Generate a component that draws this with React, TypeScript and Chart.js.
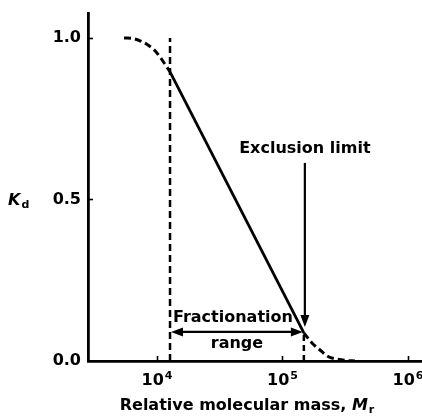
import { useEffect, useRef } from "react";
import { Chart, registerables } from "chart.js";

Chart.register(...registerables);

const FONT = '"DejaVu Sans", "Liberation Sans", sans-serif';

// Axis ticks
const xTickValues = [1e4, 1e5, 1e6];
const yTickValues = [0, 0.5, 1.0];

// Elution curve: Kd against relative molecular mass (log scale)
const shoulderMr = [5460, 6440, 7320, 8470, 9640, 10560, 11370, 12700];
const shoulderKd = [1.0, 0.998, 0.991, 0.978, 0.96, 0.941, 0.923, 0.895];
const linearMr = [12700, 148000];
const linearKd = [0.895, 0.087];
const tailMr = [148000, 171800, 199000, 230500, 271800, 314700, 378000];
const tailKd = [0.087, 0.056, 0.034, 0.014, 0.006, 0.002, 0];

// Fractionation range limits
const fractionationLowMr = 12700;
const exclusionLimitMr = 148000;
const fractionationLowKd = [0, 1.0];
const exclusionLimitKd = [0, 0.087];
const fractionationArrowKd = 0.09;
const exclusionArrowKd = [0.613, 0.105];

const pts = (xs: number[], ys: number[]) => xs.map((x, i) => ({ x, y: ys[i] }));

function arrowHead(ctx: CanvasRenderingContext2D, tx: number, ty: number, dx: number, dy: number, len = 12, half = 4.5) {
  const px = -dy, py = dx;
  ctx.beginPath();
  ctx.moveTo(tx, ty);
  ctx.lineTo(tx - dx * len + px * half, ty - dy * len + py * half);
  ctx.lineTo(tx - dx * len - px * half, ty - dy * len - py * half);
  ctx.closePath();
  ctx.fill();
}

const overlay = {
  id: "overlay",
  afterDraw(chart: any) {
    const { ctx, chartArea } = chart;
    const xs = chart.scales.x;
    const ys = chart.scales.y;
    ctx.save();
    ctx.strokeStyle = "#000";
    ctx.fillStyle = "#000";
    ctx.setLineDash([]);

    // inward tick marks
    ctx.lineWidth = 1.6;
    xTickValues.forEach((v) => {
      const px = Math.round(xs.getPixelForValue(v)) + 0.5;
      ctx.beginPath();
      ctx.moveTo(px, chartArea.bottom);
      ctx.lineTo(px, chartArea.bottom - 5);
      ctx.stroke();
    });
    yTickValues.forEach((v) => {
      if (v === 0) return;
      const py = Math.round(ys.getPixelForValue(v)) + 0.5;
      ctx.beginPath();
      ctx.moveTo(chartArea.left, py);
      ctx.lineTo(chartArea.left + 5, py);
      ctx.stroke();
    });

    // x tick labels: powers of ten with raised exponent
    ctx.textBaseline = "alphabetic";
    ctx.textAlign = "left";
    xs.ticks.forEach((t: any) => {
      const exp = String(Math.round(Math.log10(t.value)));
      const px = xs.getPixelForValue(t.value);
      ctx.font = `bold 16px ${FONT}`;
      const wb = ctx.measureText("10").width;
      ctx.font = `bold 11px ${FONT}`;
      const we = ctx.measureText(exp).width;
      const left = px - (wb + we + 1) / 2;
      const base = chartArea.bottom + 24;
      ctx.font = `bold 16px ${FONT}`;
      ctx.fillText("10", left, base);
      ctx.font = `bold 11px ${FONT}`;
      ctx.fillText(exp, left + wb + 1, base - 6);
    });

    // y-axis title: K with subscript d
    const kBase = ys.getPixelForValue(0.5) + 6;
    ctx.font = `italic bold 16px ${FONT}`;
    ctx.fillText("K", 8, kBase);
    const kW = ctx.measureText("K").width;
    ctx.font = `bold 11px ${FONT}`;
    ctx.fillText("d", 8 + kW + 1, kBase + 3);

    // x-axis title: Relative molecular mass, M with subscript r
    const t1 = "Relative molecular mass, ";
    ctx.font = `bold 16px ${FONT}`;
    const w1 = ctx.measureText(t1).width;
    ctx.font = `italic bold 16px ${FONT}`;
    const w2 = ctx.measureText("M").width;
    ctx.font = `bold 11px ${FONT}`;
    const w3 = ctx.measureText("r").width;
    const total = w1 + w2 + w3 + 1;
    const cx = (chartArea.left + chartArea.right) / 2 - 8;
    let tx = cx - total / 2;
    const tBase = 410;
    ctx.font = `bold 16px ${FONT}`;
    ctx.fillText(t1, tx, tBase);
    tx += w1;
    ctx.font = `italic bold 16px ${FONT}`;
    ctx.fillText("M", tx, tBase);
    tx += w2 + 1;
    ctx.font = `bold 11px ${FONT}`;
    ctx.fillText("r", tx, tBase + 3);

    // exclusion limit arrow and label
    const xe = xs.getPixelForValue(exclusionLimitMr) + 1;
    const yTop = ys.getPixelForValue(exclusionArrowKd[0]);
    const yTip = ys.getPixelForValue(exclusionArrowKd[1]);
    ctx.lineWidth = 2.2;
    ctx.beginPath();
    ctx.moveTo(xe, yTop);
    ctx.lineTo(xe, yTip - 10);
    ctx.stroke();
    arrowHead(ctx, xe, yTip, 0, 1);
    ctx.font = `bold 16px ${FONT}`;
    ctx.textAlign = "center";
    ctx.fillText("Exclusion limit", xe, yTop - 10);

    // fractionation range double arrow and labels
    const yf = ys.getPixelForValue(fractionationArrowKd);
    const xl = xs.getPixelForValue(fractionationLowMr) + 1;
    const xr = xs.getPixelForValue(exclusionLimitMr) - 1;
    ctx.beginPath();
    ctx.moveTo(xl + 10, yf);
    ctx.lineTo(xr - 10, yf);
    ctx.stroke();
    arrowHead(ctx, xl, yf, -1, 0);
    arrowHead(ctx, xr, yf, 1, 0);
    ctx.textAlign = "left";
    ctx.fillText("Fractionation", xl + 2, yf - 10);
    ctx.textAlign = "center";
    ctx.fillText("range", (xl + xr) / 2, yf + 16);

    ctx.restore();
  },
};

export default function App() {
  const ref = useRef<HTMLCanvasElement>(null);

  useEffect(() => {
    const tickFont = { family: FONT, size: 16, weight: "bold" as const };
    const dashed = { borderColor: "#000", borderDash: [7, 4], pointRadius: 0, fill: false };
    const chart = new Chart(ref.current!, {
      type: "line",
      data: {
        datasets: [
          { ...dashed, data: pts(shoulderMr, shoulderKd), borderWidth: 3, cubicInterpolationMode: "monotone" },
          { data: pts(linearMr, linearKd), borderColor: "#000", borderWidth: 2.8, pointRadius: 0, fill: false },
          { ...dashed, data: pts(tailMr, tailKd), borderWidth: 3, cubicInterpolationMode: "monotone" },
          { ...dashed, data: pts([fractionationLowMr, fractionationLowMr], fractionationLowKd), borderWidth: 2.5 },
          { ...dashed, data: pts([exclusionLimitMr, exclusionLimitMr], exclusionLimitKd), borderWidth: 2.5, borderDash: [6, 4] },
        ],
      },
      options: {
        responsive: false,
        animation: false,
        parsing: false as any,
        layout: { padding: { top: 13, right: 0, left: 0, bottom: 0 } },
        plugins: { legend: { display: false }, tooltip: { enabled: false } },
        scales: {
          x: {
            type: "logarithmic",
            min: 2820,
            max: 1.293e6,
            grid: { display: false, drawTicks: false },
            border: { display: true, color: "#000", width: 2.8 },
            ticks: { display: false, autoSkip: false },
            afterBuildTicks: (s: any) => {
              s.ticks = xTickValues.map((value) => ({ value }));
            },
            afterFit: (s: any) => {
              s.height = 57;
              s.paddingLeft = 0;
              s.paddingRight = 0;
            },
          },
          y: {
            type: "linear",
            min: 0,
            max: 1.077,
            grid: { display: false, drawTicks: false },
            border: { display: true, color: "#000", width: 2.8 },
            ticks: {
              font: tickFont,
              color: "#000",
              padding: 7,
              callback: (v: any) => Number(v).toFixed(1),
            },
            afterBuildTicks: (s: any) => {
              s.ticks = yTickValues.map((value) => ({ value }));
            },
            afterFit: (s: any) => {
              s.width = 88;
              s.paddingTop = 0;
              s.paddingBottom = 0;
            },
          },
        },
      },
      plugins: [overlay],
    });
    return () => chart.destroy();
  }, []);

  return (
    <div style={{ position: "absolute", left: 0, top: 0, width: 422, height: 418, background: "#fff" }}>
      <canvas ref={ref} width={422} height={418} style={{ display: "block" }} />
    </div>
  );
}
